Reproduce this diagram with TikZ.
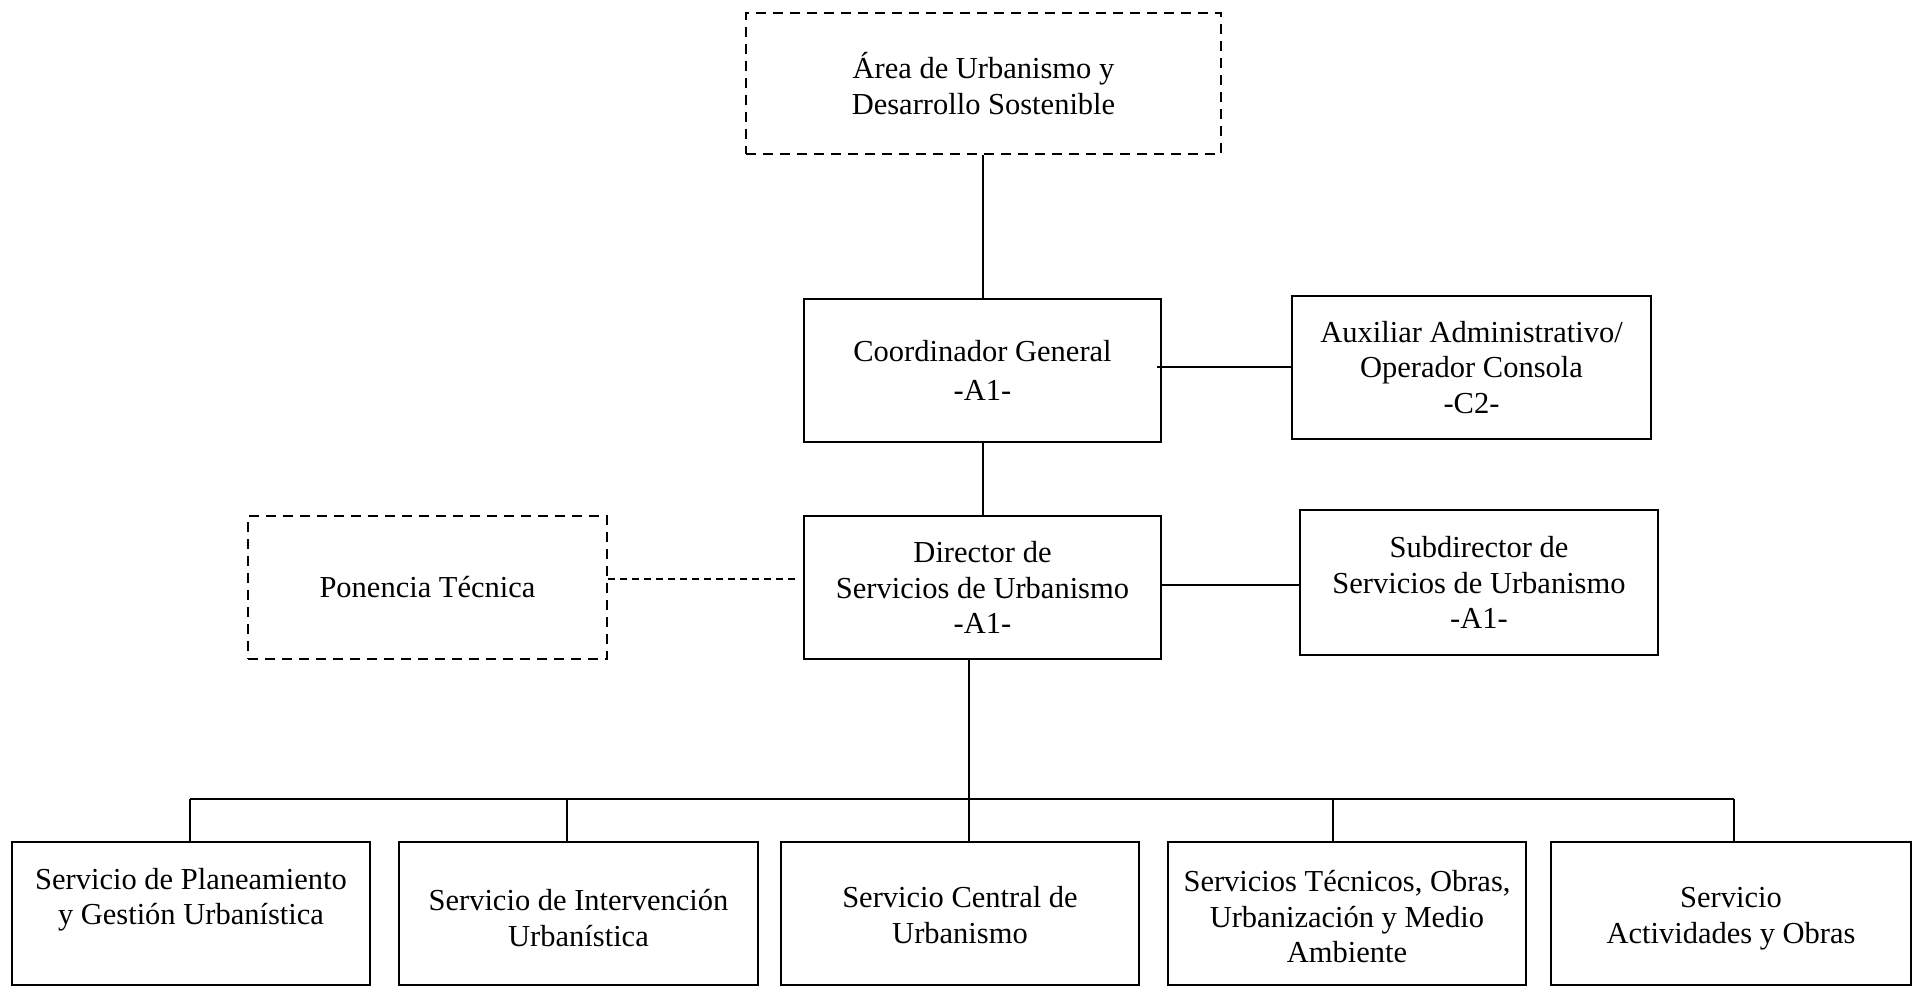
\documentclass[tikz,border=0pt]{standalone}
\usepackage{fontspec}
\setmainfont{Liberation Serif}
\begin{document}
\begin{tikzpicture}[x=1pt,y=-1pt,
  box/.style={draw, line width=2.3pt, minimum width=357pt, minimum height=143pt, inner sep=0pt, align=center, font=\fontsize{30.5}{35.5}\selectfont},
  dbox/.style={box, dash pattern=on 10pt off 7pt},
  txt/.style={align=center, inner sep=0pt, font=\fontsize{30.5}{35.5}\selectfont},
  link/.style={line width=2pt},
  dlink/.style={line width=2pt, dash pattern=on 7pt off 5pt}]
\useasboundingbox (0,0) rectangle (1919,987);
% upper boxes
\node[dbox, minimum width=475pt, minimum height=141pt] (area) at (983.5,83.5) {Área de Urbanismo y\\Desarrollo Sostenible};
\node[box] (coord) at (982.5,370.5) {Coordinador General\\[3.5pt]-A1-};
\node[box, minimum width=359pt] (aux) at (1471.5,367.5) {Auxiliar Administrativo/\\Operador Consola\\-C2-};
\node[box] (dir) at (982.5,587.5) {Director de\\Servicios de Urbanismo\\-A1-};
\node[dbox, minimum width=359pt] (pon) at (427.5,587.5) {Ponencia Técnica};
\node[box, minimum width=358pt, minimum height=145pt] (sub) at (1479,582.5) {Subdirector de\\Servicios de Urbanismo\\-A1-};
% bottom boxes
\node[box, minimum width=358pt] (b1) at (191,913.5) {};
\node[box, minimum width=359pt] (b2) at (578.5,913.5) {};
\node[box, minimum width=358pt] (b3) at (960,913.5) {};
\node[box, minimum width=358pt] (b4) at (1347,913.5) {};
\node[box, minimum width=360pt] (b5) at (1731,913.5) {};
\node[txt] (t1) at (191,899.6) {Servicio de Planeamiento\\y Gestión Urbanística};
\node[txt] (t2) at (578.5,918) {Servicio de Intervención\\Urbanística};
\node[txt] (t3) at (960,915) {Servicio Central de\\Urbanismo};
\node[txt] (t4) at (1347,916.7) {Servicios Técnicos, Obras,\\Urbanización y Medio\\Ambiente};
\node[txt] (t5) at (1731,918.5) {Servicio\\Actividades y Obras};
% connectors
\coordinate (vx) at (983,0);
\draw[link] (area.south -| vx) -- (coord.north -| vx);
\draw[link] (coord.south -| vx) -- (dir.north -| vx);
\coordinate (ca) at (1157,367);
\draw[link] (ca) -- (ca -| aux.west);
\coordinate (ds) at (1161,585);
\draw[link] (ds) -- (ds -| sub.west);
\coordinate (pd) at (797,579);
\draw[dlink] (pd -| pon.east) -- (pd);
\coordinate (busL) at (190,799);
\coordinate (j2) at (567,799);
\coordinate (dd) at (969,799);
\coordinate (j4) at (1333,799);
\coordinate (busR) at (1734,799);
\draw[link] (busL) -- (busR);
\draw[link] (busL) -- (busL |- b1.north);
\draw[link] (j2) -- (j2 |- b2.north);
\draw[link] (dir.south -| dd) -- (dd |- b3.north);
\draw[link] (j4) -- (j4 |- b4.north);
\draw[link] (busR) -- (busR |- b5.north);
\end{tikzpicture}
\end{document}
